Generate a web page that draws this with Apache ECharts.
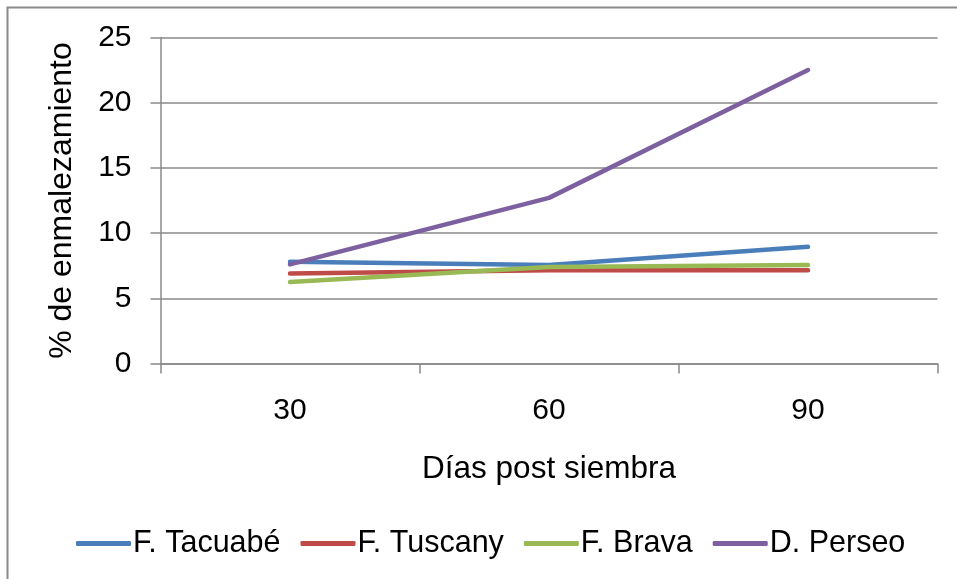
<!DOCTYPE html>
<html>
<head>
<meta charset="utf-8">
<title>% de enmalezamiento</title>
<script src="https://cdn.jsdelivr.net/npm/echarts@6/dist/echarts.min.js"></script>
<style>
  html, body { margin: 0; padding: 0; background: #ffffff; }
  #chart { width: 957px; height: 579px; }
</style>
</head>
<body>
<div id="chart"></div>
<script>
// Días post siembra
const categories = ['30', '60', '90'];

// % de enmalezamiento por cultivar
const tacuabe = [7.8, 7.55, 8.95];
const tuscany = [6.9, 7.15, 7.15];
const brava   = [6.25, 7.4, 7.55];
const perseo  = [7.6, 12.7, 22.5];

const seriesNames = ['F. Tacuabé', 'F. Tuscany', 'F. Brava', 'D. Perseo'];
const seriesData = [tacuabe, tuscany, brava, perseo];
const colors = ['#4A7EBB', '#BE4B48', '#98B954', '#7D60A0'];

const font = 'Liberation Sans, Arial, sans-serif';
const gray = '#898989';

const chart = echarts.init(document.getElementById('chart'), null, { renderer: 'canvas' });

chart.setOption({
  animation: false,
  backgroundColor: '#ffffff',
  color: colors,
  graphic: [{
    type: 'rect',
    shape: { x: 7.5, y: 7.5, width: 1000, height: 1000 },
    style: { fill: 'none', stroke: gray, lineWidth: 2 },
    silent: true,
    z: -1
  }],
  grid: { left: 160.5, right: 19.5, top: 37.5, bottom: 215.5, containLabel: false },
  legend: {
    left: 76,
    top: 528,
    padding: 0,
    itemWidth: 55,
    itemHeight: 5,
    itemGap: 20,
    icon: 'roundRect',
    textStyle: { fontFamily: font, fontSize: 30.5, color: '#000000', padding: [0, 0, 0, -3] },
    data: seriesNames
  },
  xAxis: {
    type: 'category',
    data: categories,
    boundaryGap: true,
    name: 'Días post siembra',
    nameLocation: 'middle',
    nameGap: 90,
    nameTextStyle: { fontFamily: font, fontSize: 31.5, color: '#000000' },
    axisLine: { lineStyle: { color: gray, width: 1.5 } },
    axisTick: { show: true, length: 10, lineStyle: { color: gray, width: 1.5 } },
    axisLabel: { fontFamily: font, fontSize: 30, color: '#000000', margin: 32 },
    splitLine: { show: false }
  },
  yAxis: {
    type: 'value',
    min: 0,
    max: 25,
    interval: 5,
    name: '% de enmalezamiento',
    nameLocation: 'middle',
    nameGap: 82,
    nameRotate: 90,
    nameTextStyle: { fontFamily: font, fontSize: 32, color: '#000000' },
    axisLine: { show: true, lineStyle: { color: gray, width: 1.5 } },
    axisTick: { show: true, length: 10, lineStyle: { color: gray, width: 1.5 } },
    axisLabel: { fontFamily: font, fontSize: 30, color: '#000000', margin: 29 },
    splitLine: { show: true, lineStyle: { color: gray, width: 1.5 } }
  },
  series: seriesNames.map((name, i) => ({
    name: name,
    type: 'line',
    data: seriesData[i],
    symbol: 'none',
    lineStyle: { width: 4.5, color: colors[i], cap: 'round', join: 'round' },
    itemStyle: { color: colors[i] }
  }))
});
</script>
</body>
</html>
